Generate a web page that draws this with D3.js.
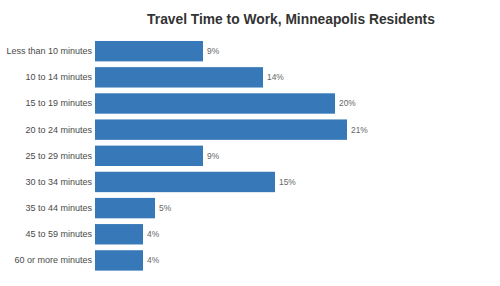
<!DOCTYPE html>
<html>
<head>
<meta charset="utf-8">
<script src="https://cdnjs.cloudflare.com/ajax/libs/d3/7.8.5/d3.min.js"></script>
<style>
  body { margin: 0; background: #fff; }
  text { font-family: "Liberation Sans", Arial, sans-serif; }
</style>
</head>
<body>
<div id="chart"></div>
<script>
(function() {
    const width = 500;
    const height = 286;

    // Travel time categories and share of residents (%)
    const categories = [
        "Less than 10 minutes", "10 to 14 minutes", "15 to 19 minutes",
        "20 to 24 minutes", "25 to 29 minutes", "30 to 34 minutes",
        "35 to 44 minutes", "45 to 59 minutes", "60 or more minutes"
    ];
    const shares = [9, 14, 20, 21, 9, 15, 5, 4, 4];

    const rows = categories.map((c, i) => ({ name: c, value: shares[i] }));

    const svg = d3.select("#chart")
        .append("svg")
        .attr("width", width)
        .attr("height", height);

    const x = d3.scaleLinear()
        .domain([0, 21])
        .range([95, 347]);

    const y = d3.scaleBand()
        .domain(categories)
        .range([38.1, 273.5])
        .paddingInner(0.22)
        .paddingOuter(0.11);

    svg.append("text")
        .attr("x", 291)
        .attr("y", 24)
        .attr("text-anchor", "middle")
        .style("font-size", "13.8px")
        .style("font-weight", "bold")
        .style("fill", "#333")
        .text("Travel Time to Work, Minneapolis Residents");

    svg.append("g")
        .selectAll("rect")
        .data(rows)
        .enter().append("rect")
        .attr("x", x(0))
        .attr("y", d => y(d.name))
        .attr("width", d => x(d.value) - x(0))
        .attr("height", y.bandwidth())
        .attr("fill", "#3779b8");

    // category labels
    const axis = svg.append("g")
        .attr("transform", `translate(${x(0) - 3},0)`)
        .call(d3.axisLeft(y).tickSize(0).tickPadding(0));
    axis.select(".domain").remove();
    axis.selectAll("text")
        .style("font-size", "9px")
        .style("fill", "#4a4a4a");

    // value labels
    svg.append("g")
        .selectAll("text")
        .data(rows)
        .enter().append("text")
        .attr("x", d => x(d.value) + 4)
        .attr("y", d => y(d.name) + y.bandwidth() / 2)
        .attr("dy", "0.35em")
        .style("font-size", "8.4px")
        .style("fill", "#666")
        .text(d => d.value + "%");
})();
</script>
</body>
</html>
